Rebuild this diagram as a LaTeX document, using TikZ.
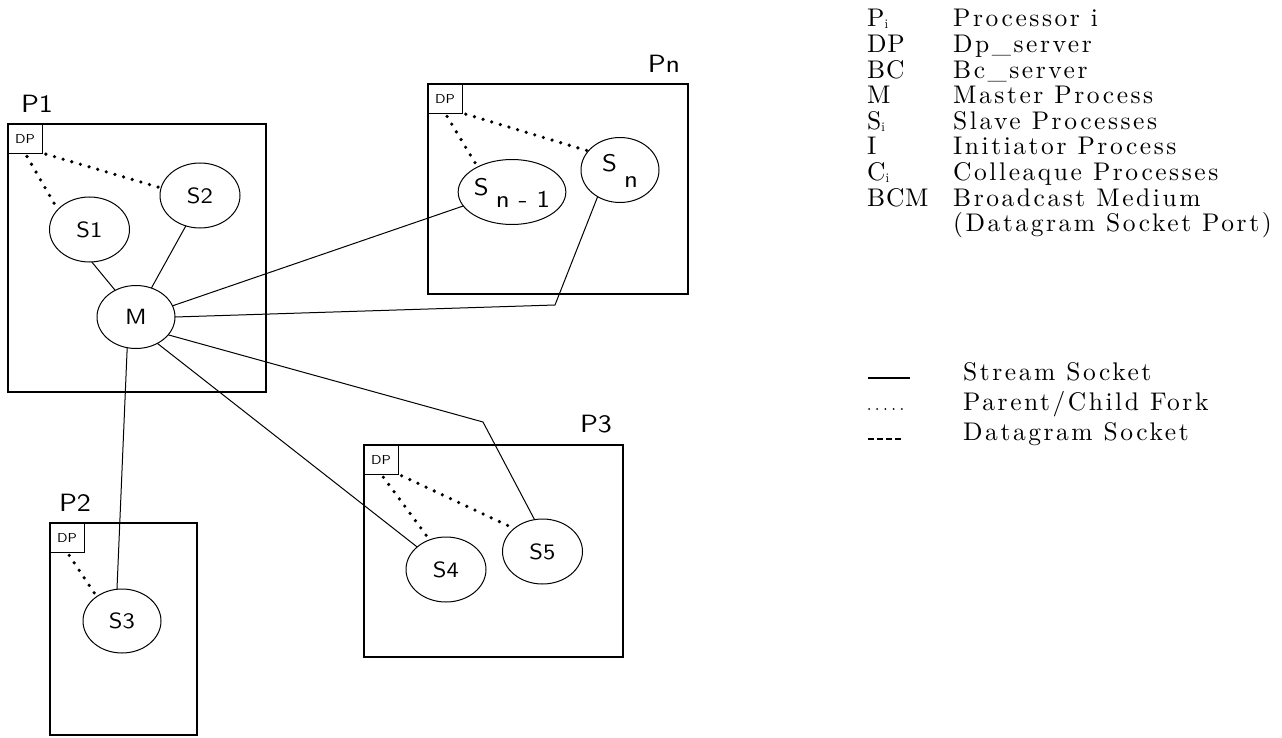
\documentclass[tikz,border=0pt]{standalone}
\usepackage{fontspec}
\usetikzlibrary{shapes.geometric}
\newfontfamily\legfont{lmroman10-regular.otf}[LetterSpace=10]
\newfontfamily\legkeyfont{lmroman10-regular.otf}[LetterSpace=3]
\setsansfont{lmsans10-regular.otf}[FakeStretch=1.12]
\newcommand{\lowsub}[1]{\smash{\raisebox{-2pt}{\fontsize{13}{13}\selectfont #1}}}
\begin{document}
\begin{tikzpicture}[x=1pt,y=-1pt,
  procbox/.style={draw, line width=2pt, inner sep=0pt, outer sep=0pt, anchor=north west},
  dpbox/.style={draw, line width=0.9pt, inner sep=0pt, outer sep=0pt, anchor=north west,
    minimum width=34pt, minimum height=29pt, font=\sffamily\fontsize{13}{13}\selectfont},
  proc/.style={ellipse, draw, line width=1pt, inner sep=0pt, outer sep=0pt,
    minimum width=80pt, minimum height=65pt, font=\sffamily\fontsize{22}{22}\selectfont},
  subproc/.style={proc, font=\sffamily\fontsize{24}{24}\selectfont},
  plabel/.style={font=\sffamily\fontsize{25}{25}\selectfont, inner sep=0pt},
  stream/.style={line width=1pt},
  fork/.style={line width=3.6pt, line cap=round, dash pattern=on 0pt off 9pt, shorten <=4pt},
  legtext/.style={anchor=base west, inner sep=0pt, font=\legfont\fontsize{25.5}{25.5}\selectfont},
  legkey/.style={anchor=base west, inner sep=0pt, text depth=0pt, font=\legkeyfont\fontsize{25.5}{25.5}\selectfont},
  legsym/.style={line width=1.8pt},
]
\useasboundingbox (0,0) rectangle (1282,738);

% processor boxes
\node[procbox, minimum width=258pt, minimum height=268pt] (P1) at (8,124) {};
\node[dpbox] (dp1) at (8,124) {DP};
\node[plabel] (lP1) at (37,104) {P1};

\node[procbox, minimum width=260pt, minimum height=210pt] (Pn) at (428,84) {};
\node[dpbox] (dpn) at (428,84) {DP};
\node[plabel] (lPn) at (664,64) {Pn};

\node[procbox, minimum width=259pt, minimum height=212pt] (P3) at (364,445) {};
\node[dpbox] (dp3) at (364,445) {DP};
\node[plabel] (lP3) at (596,424) {P3};

\node[procbox, minimum width=147pt, minimum height=212pt] (P2) at (50,523) {};
\node[dpbox] (dp2) at (50,523) {DP};
\node[plabel] (lP2) at (75,503) {P2};

% processes
\node[proc] (S1) at (89.5,229.5) {S1};
\node[proc] (S2) at (200,195.5) {S2};
\node[proc, minimum width=78pt, minimum height=63pt] (M) at (136,317) {M};
\node[subproc] (Sn1) at (512,192) {\smash{\raisebox{-4pt}{S}\hspace{7pt}\raisebox{-16pt}{n - 1}}};
\node[subproc, minimum width=78pt] (Sn) at (620,170) {\smash{\raisebox{-2pt}{S}\hspace{7pt}\raisebox{-18pt}{n}}};
\node[proc, minimum width=78pt, minimum height=64pt] (S3) at (122,621) {S3};
\node[proc] (S4) at (446,569.5) {S4};
\node[proc] (S5) at (542.5,551.5) {S5};

% stream sockets
\draw[stream] (M.128) -- (S1.274);
\draw[stream] (M.62) -- (S2.245);
\draw[stream] (M.17) -- (Sn1.196);
\coordinate (bn) at (555,305);
\draw[stream] (M.0) -- (bn) -- (Sn.230);
\coordinate (b5) at (483,422);
\draw[stream] (M.331) -- (b5) -- (S5.104);
\draw[stream] (M.309) -- (S4.142);
\draw[stream] (M.254) -- (S3.99);

% parent/child forks
\draw[fork] (dp1.south) -- (S1.148);
\draw[fork] (dp1.south east) -- (S2.169);
\draw[fork] (dpn.south) -- (Sn1.144);
\draw[fork] (dpn.south east) -- (Sn.149);
\draw[fork] (dp3.south) -- (S4.119);
\draw[fork] (dp3.south east) -- (S5.141);
\draw[fork] (dp2.south) -- (S3.136);

% legend
\node[legkey] (k1) at (867,27) {P\lowsub{i}};
\node[legkey] (k2) at (867,52.6) {DP};
\node[legkey] (k3) at (867,78.2) {BC};
\node[legkey] (k4) at (867,103.8) {M};
\node[legkey] (k5) at (867,129.4) {S\lowsub{i}};
\node[legkey] (k6) at (867,155) {I};
\node[legkey] (k7) at (867,180.6) {C\lowsub{i}};
\node[legkey] (k8) at (867,206.2) {BCM};

\node[legtext] (v1) at (953,27) {Processor i};
\node[legtext] (v2) at (953,52.6) {Dp\_server};
\node[legtext] (v3) at (953,78.2) {Bc\_server};
\node[legtext] (v4) at (953,103.8) {Master Process};
\node[legtext] (v5) at (953,129.4) {Slave Processes};
\node[legtext] (v6) at (953,155) {Initiator Process};
\node[legtext] (v7) at (953,180.6) {Colleaque Processes};
\node[legtext] (v8) at (953,206.2) {Broadcast Medium};
\node[legtext] (v9) at (953,231.8) {(Datagram Socket Port)};

\coordinate (l1a) at (868,378); \coordinate (l1b) at (910,378);
\draw[legsym] (l1a) -- (l1b);
\coordinate (l2a) at (869,409); \coordinate (l2b) at (902,409);
\draw[line width=2pt, line cap=round, dash pattern=on 0pt off 8.2pt] (l2a) -- (l2b);
\coordinate (l3a) at (868,439); \coordinate (l3b) at (902,439);
\draw[line width=1.6pt, dash pattern=on 6pt off 3pt] (l3a) -- (l3b);

\node[legtext] (w1) at (963,380) {Stream Socket};
\node[legtext] (w2) at (963,410) {Parent/Child Fork};
\node[legtext] (w3) at (963,440) {Datagram Socket};
\end{tikzpicture}
\end{document}
